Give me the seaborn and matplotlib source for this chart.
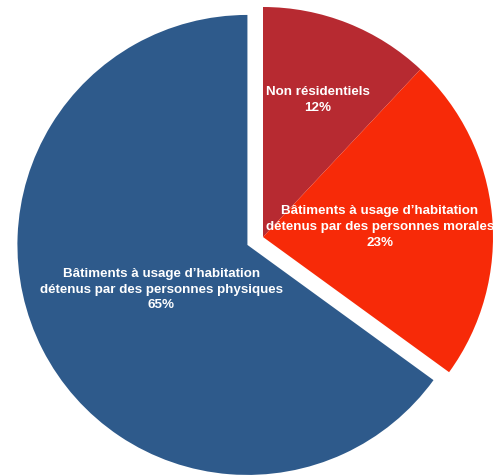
import numpy as np
import matplotlib
matplotlib.use("Agg")
import matplotlib.pyplot as plt
import seaborn as sns

sns.set_theme(style="white")
plt.rcParams["font.family"] = ["Liberation Sans", "DejaVu Sans"]

# Répartition du parc de bâtiments
categories = [
    "Non résidentiels",
    "Bâtiments à usage d’habitation\ndétenus par des personnes morales",
    "Bâtiments à usage d’habitation\ndétenus par des personnes physiques",
]
shares = [12, 23, 65]
colors = ["#B72A31", "#F72A08", "#2E5A8B"]
explode = [0.0, 0.0, 0.076]
label_dist = [0.645, 0.51, 0.42]

W, H, DPI = 496, 477, 100
fig = plt.figure(figsize=(W / DPI, H / DPI), dpi=DPI)
ax = fig.add_axes([0, 0, 1, 1])

R_PX = 230.0          # pie radius in pixels
cx, cy = 263.0, 239.0  # pie centre in pixels (from bottom-left)

wedges, _ = ax.pie(
    shares,
    colors=colors,
    explode=explode,
    startangle=90,
    counterclock=False,
    wedgeprops=dict(linewidth=0, antialiased=True),
)

for w, cat, pct, d in zip(wedges, categories, shares, label_dist):
    mid = np.deg2rad((w.theta1 + w.theta2) / 2)
    x0, y0 = w.center
    ax.text(
        x0 + d * w.r * np.cos(mid),
        y0 + d * w.r * np.sin(mid),
        f"{cat}\n{pct}%",
        ha="center", va="center",
        color="white", fontsize=9.6, fontweight="bold",
        linespacing=1.4,
    )

ax.set_xlim(-cx / R_PX, (W - cx) / R_PX)
ax.set_ylim(-cy / R_PX, (H - cy) / R_PX)
ax.set_aspect("equal", adjustable="box")
ax.axis("off")

fig.savefig("out.png", dpi=DPI, facecolor="white")
